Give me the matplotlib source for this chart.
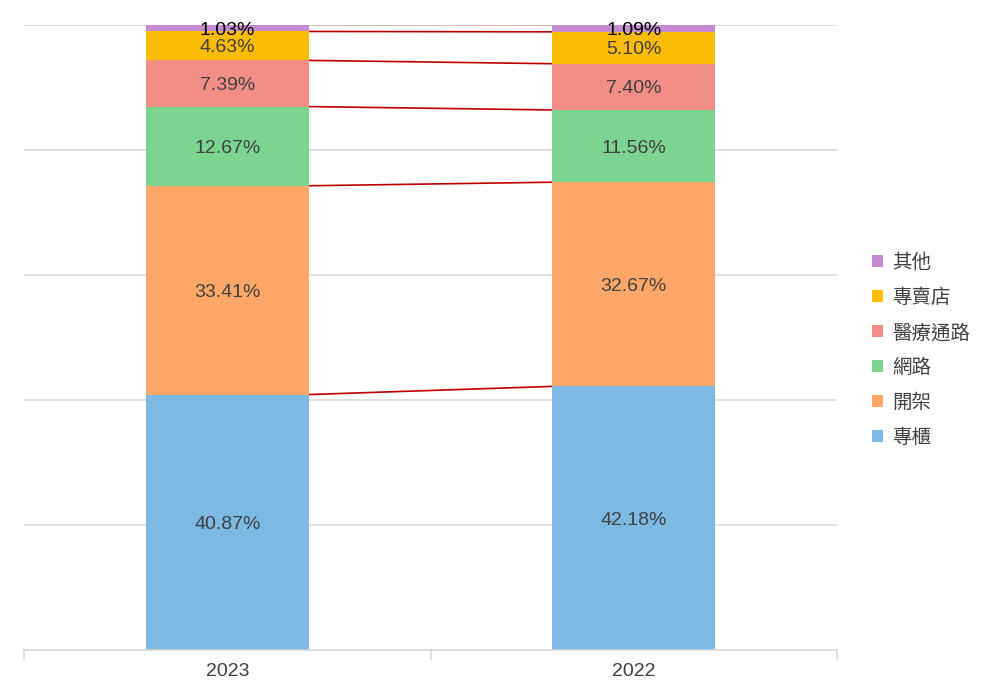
import numpy as np
import matplotlib
matplotlib.use('Agg')
import matplotlib.pyplot as plt

plt.rcParams['font.family'] = ['Liberation Sans', 'Noto Sans CJK TC', 'DejaVu Sans']

years = ['2023', '2022']
channels = ['專櫃', '開架', '網路', '醫療通路', '專賣店', '其他']
shares = {
    '專櫃': [40.87, 42.18],
    '開架': [33.41, 32.67],
    '網路': [12.67, 11.56],
    '醫療通路': [7.39, 7.40],
    '專賣店': [4.63, 5.10],
    '其他': [1.03, 1.09],
}
colors = ['#7CBAE4', '#FFA768', '#7BD591', '#F28E86', '#FBBC05', '#C58BD0']

fig = plt.figure(figsize=(9.88, 6.99), dpi=100)
ax = fig.add_axes([0.0243, 0.0701, 0.8229, 0.8941])

x = np.arange(len(years))
width = 0.4
bottom = np.zeros(len(years))
tops = []
for name, col in zip(channels, colors):
    vals = np.array(shares[name]) / 100.0
    ax.bar(x, vals, width, bottom=bottom, color=col, label=name, zorder=2)
    for xi, v, b in zip(x, vals, bottom):
        tc = '#000000' if name == '其他' else '#404040'
        ax.text(xi, b + v / 2, f'{v * 100:.2f}%', ha='center', va='center_baseline',
                fontsize=14, color=tc, zorder=3)
    bottom = bottom + vals
    tops.append(bottom.copy())

# series lines between the bars
for t in tops:
    ax.plot([x[0] + width / 2, x[1] - width / 2], [t[0], t[1]],
            color='#C00000', lw=1.2, zorder=1)

ax.set_ylim(0, 1.0)
ax.set_yticks(np.arange(0, 1.01, 0.2))
ax.set_yticklabels([])
ax.tick_params(axis='y', length=0)
ax.grid(axis='y', color='#D9D9D9', lw=1.2, zorder=0)

ax.set_xlim(-0.5, 1.5)
ax.set_xticks([-0.5, 0.5, 1.5])
ax.set_xticklabels([])
ax.tick_params(axis='x', which='major', length=7, color='#D9D9D9', width=1.2)
ax.set_xticks(x, minor=True)
ax.set_xticklabels(years, minor=True)
ax.tick_params(axis='x', which='minor', length=0, labelsize=14, labelcolor='#404040', pad=9)

for s in ['top', 'right', 'left']:
    ax.spines[s].set_visible(False)
ax.spines['bottom'].set_color('#D9D9D9')
ax.spines['bottom'].set_linewidth(1.2)

handles, labels = ax.get_legend_handles_labels()
leg = fig.legend(handles[::-1], labels[::-1], loc='center left',
                 bbox_to_anchor=(0.8826, 0.4993), frameon=False, fontsize=14,
                 borderpad=0, borderaxespad=0,
                 handlelength=0.55, handleheight=0.55, handletextpad=0.5,
                 labelspacing=0.86, labelcolor='#404040')

fig.savefig('out.png', dpi=100)
